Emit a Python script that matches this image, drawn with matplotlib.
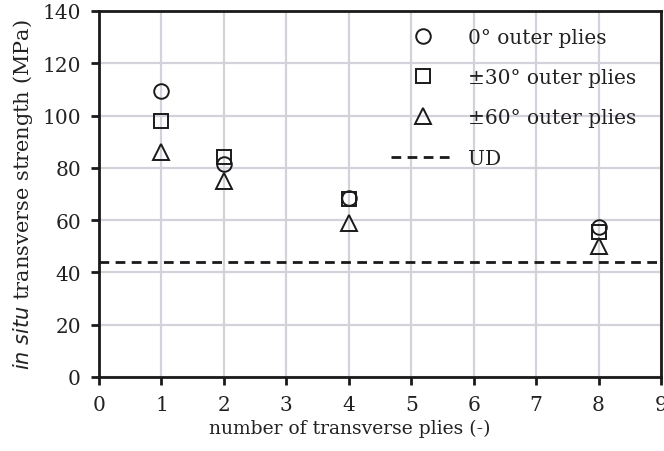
import matplotlib
matplotlib.use("Agg")
import matplotlib.pyplot as plt

plies = [1, 2, 4, 8]
s0 = [109.3, 81.5, 68.3, 57.5]
s30 = [97.8, 84.0, 68.0, 55.5]
s60 = [86.2, 75.0, 59.0, 50.0]
ud = 44.0
xticks = list(range(0, 10))
yticks = list(range(0, 141, 20))

plt.rcParams['font.family'] = ['DejaVu Serif']
fig = plt.figure(figsize=(6.64, 4.52), dpi=100)
ax = fig.add_axes([99/664, 1-378/452, 562/664, 366/452])

ax.axhline(ud, color='#1a1a1a', ls=(0, (3.5, 2.3)), lw=2.0, label='UD', zorder=2)
ax.plot(plies, s0, ls='none', marker='o', ms=10.5, mfc='none', mec='#1a1a1a', mew=1.4, label='0° outer plies', zorder=3)
ax.plot(plies, s30, ls='none', marker='s', ms=10, mfc='none', mec='#1a1a1a', mew=1.4, label='±30° outer plies', zorder=3)
ax.plot(plies, s60, ls='none', marker='^', ms=11, mfc='none', mec='#1a1a1a', mew=1.4, label='±60° outer plies', zorder=3)

ax.set_xlim(0, 9)
ax.set_ylim(0, 140)
ax.set_xticks(xticks)
ax.set_yticks(yticks)
ax.grid(True, color='#d2d2da', lw=1.6, zorder=0)
ax.set_axisbelow(True)
for sp in ax.spines.values():
    sp.set_linewidth(2)
    sp.set_color('#1a1a1a')
ax.tick_params(direction='out', length=6, width=2, color='#1a1a1a', labelsize=14.5, labelcolor='#222222', pad=7)

ax.set_xlabel('number of transverse plies (-)', fontsize=13.5, color='#222222', labelpad=6)
ax.xaxis.set_label_coords(0.447, -0.115)
ax.set_ylabel(r'$\it{in\ situ}$ transverse strength (MPa)', fontsize=15, color='#222222', labelpad=5)

h, l = ax.get_legend_handles_labels()
order = [1, 2, 3, 0]
leg = ax.legend([h[i] for i in order], [l[i] for i in order], loc='upper right', frameon=False,
                fontsize=14.5, handlelength=3.1, handletextpad=0.7, labelspacing=1.05, borderaxespad=0.0,
                bbox_to_anchor=(0.97, 0.975), labelcolor='#222222')

fig.savefig('out.png', dpi=100)
